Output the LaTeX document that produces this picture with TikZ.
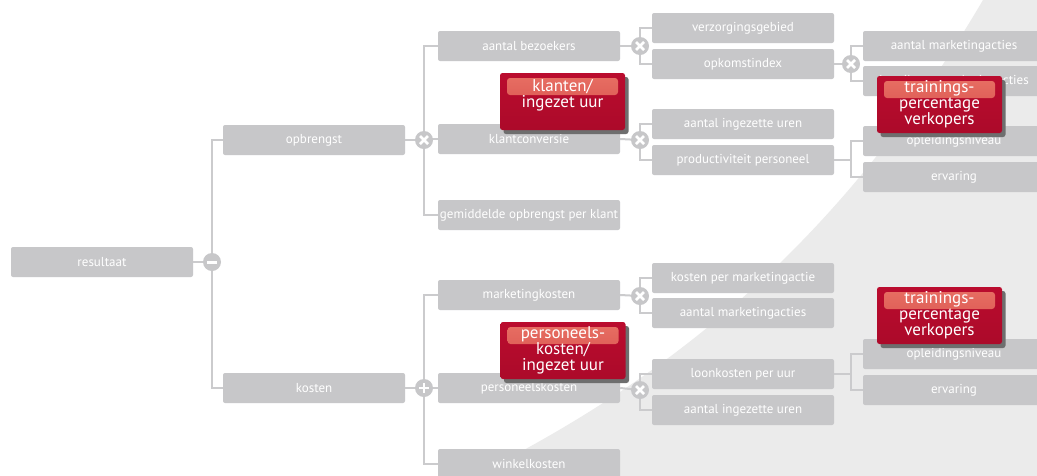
\documentclass[tikz,border=0pt]{standalone}
\usepackage{fontspec}
\setmainfont{PT Sans}
\usetikzlibrary{shadows}
\definecolor{boxgray}{RGB}{199,199,201}
\definecolor{linegray}{RGB}{203,203,205}
\definecolor{bggray}{RGB}{235,235,235}
\definecolor{crimson}{RGB}{186,12,46}
\definecolor{crimsondark}{RGB}{172,10,42}
\definecolor{glosstop}{RGB}{232,112,100}
\definecolor{glossbot}{RGB}{212,74,72}
\definecolor{shadowgray}{RGB}{110,110,110}
\tikzset{
  gbox/.style={fill=boxgray, rounded corners=2pt, minimum width=182pt, minimum height=30pt,
    inner sep=0pt, text=white, font=\fontsize{13}{15}\selectfont},
  conn/.style={draw=linegray, line width=2pt},
  opnode/.style={circle, fill=boxgray, minimum size=18pt, inner sep=0pt},
  opx/.style={opnode, path picture={
    \draw[white, line width=2.6pt]
      ([shift={(-4pt,-4pt)}]path picture bounding box.center) -- ([shift={(4pt,4pt)}]path picture bounding box.center)
      ([shift={(-4pt,4pt)}]path picture bounding box.center) -- ([shift={(4pt,-4pt)}]path picture bounding box.center);}},
  opplus/.style={opnode, path picture={
    \draw[white, line width=2.6pt]
      ([shift={(-5pt,0pt)}]path picture bounding box.center) -- ([shift={(5pt,0pt)}]path picture bounding box.center)
      ([shift={(0pt,5pt)}]path picture bounding box.center) -- ([shift={(0pt,-5pt)}]path picture bounding box.center);}},
  opminus/.style={opnode, path picture={
    \draw[white, line width=3pt]
      ([shift={(-5pt,0pt)}]path picture bounding box.center) -- ([shift={(5pt,0pt)}]path picture bounding box.center);}},
  redbox/.style={rounded corners=2.5pt, top color=crimson, bottom color=crimsondark,
    minimum width=125pt, minimum height=57pt, inner sep=0pt, align=center, text=white,
    font=\fontsize{17}{16}\selectfont,
    general shadow={fill=shadowgray, shadow xshift=3.5pt, shadow yshift=-4pt},
    path picture={
      \shade[top color=glosstop, bottom color=glossbot, rounded corners=3pt]
        ([shift={(7pt,-5pt)}]path picture bounding box.north west) rectangle
        ([shift={(-7pt,-22pt)}]path picture bounding box.north east);}},
}
\begin{document}
\begin{tikzpicture}[x=1pt,y=-1pt]
\useasboundingbox (0,0) rectangle (1037,475);
\clip (0,0) rectangle (1037,475);
\fill[white] (0,0) rectangle (1037,475);
\fill[bggray] (476,475) .. controls (700,363) and (856,216) .. (983,0) -- (1040,0) -- (1040,478) -- cycle;

% boxes
\node[gbox] (res) at (102,262) {resultaat};
\node[gbox] (opb) at (314,140) {opbrengst};
\node[gbox] (kos) at (314,388) {kosten};
\node[gbox] (bez) at (529,46) {aantal bezoekers};
\node[gbox] (kc) at (529,139) {klantconversie};
\node[gbox] (gem) at (529,215) {gemiddelde opbrengst per klant};
\node[gbox] (mk) at (529,295) {marketingkosten};
\node[gbox] (pk) at (529,388) {personeelskosten};
\node[gbox] (wk) at (529,464) {winkelkosten};
\node[gbox] (vz) at (743,28) {verzorgingsgebied};
\node[gbox] (ok) at (743,64) {opkomstindex};
\node[gbox] (aiu) at (743,124) {aantal ingezette uren};
\node[gbox] (pp) at (743,160) {productiviteit personeel};
\node[gbox] (kpm) at (743,278) {kosten per marketingactie};
\node[gbox] (am) at (743,313) {aantal marketingacties};
\node[gbox] (lk) at (743,374) {loonkosten per uur};
\node[gbox] (aiub) at (743,410) {aantal ingezette uren};
\node[gbox] (amb) at (954,46) {aantal marketingacties};
\node[gbox] (pma) at (954,81) {bereik van marketingacties};
\node[gbox] (opl) at (954,141) {opleidingsniveau};
\node[gbox] (erv) at (954,177) {ervaring};
\node[gbox] (oplb) at (954,354) {opleidingsniveau};
\node[gbox] (ervb) at (954,390) {ervaring};

% operators and junctions (positions)
\coordinate (cm) at (212,262);
\coordinate (c1) at (424,140);
\coordinate (c2) at (424,388);
\coordinate (c3) at (640,46);
\coordinate (c4) at (640,140);
\coordinate (c5) at (640,296);
\coordinate (c6) at (640,390);
\coordinate (c7) at (851,64);
\coordinate (j1) at (851,160);
\coordinate (j2) at (851,374);

% connectors
\begin{scope}[conn]
\draw (res.east) -- (cm); \draw (cm) |- (opb.west); \draw (cm) |- (kos.west);
\draw (opb.east) -- (c1); \draw (c1) |- (bez.west); \draw (c1) |- (kc.west); \draw (c1) |- (gem.west);
\draw (kos.east) -- (c2); \draw (c2) |- (mk.west); \draw (c2) |- (pk.west); \draw (c2) |- (wk.west);
\draw (bez.east) -- (c3); \draw (c3) |- (vz.west); \draw (c3) |- (ok.west);
\draw (kc.east) -- (c4); \draw (c4) |- (aiu.west); \draw (c4) |- (pp.west);
\draw (mk.east) -- (c5); \draw (c5) |- (kpm.west); \draw (c5) |- (am.west);
\draw (pk.east) -- (c6); \draw (c6) |- (lk.west); \draw (c6) |- (aiub.west);
\draw (ok.east) -- (c7); \draw (c7) |- (amb.west); \draw (c7) |- (pma.west);
\draw (pp.east) -- (j1); \draw (j1) |- (opl.west); \draw (j1) |- (erv.west);
\draw (lk.east) -- (j2); \draw (j2) |- (oplb.west); \draw (j2) |- (ervb.west);
\end{scope}

\node[opminus] (om) at (cm) {};
\node[opx] (o1) at (c1) {};
\node[opplus] (o2) at (c2) {};
\node[opx] (o3) at (c3) {};
\node[opx] (o4) at (c4) {};
\node[opx] (o5) at (c5) {};
\node[opx] (o6) at (c6) {};
\node[opx] (o7) at (c7) {};

% red callouts
\node[redbox] (r1) at (562.5,101.5) {klanten/\\ingezet uur\\\mbox{}};
\node[redbox] (r2) at (939.5,104.5) {trainings-\\percentage\\verkopers};
\node[redbox] (r3) at (563,350.5) {personeels-\\kosten/\\ingezet uur};
\node[redbox] (r4) at (939.5,315.5) {trainings-\\percentage\\verkopers};
\end{tikzpicture}
\end{document}
